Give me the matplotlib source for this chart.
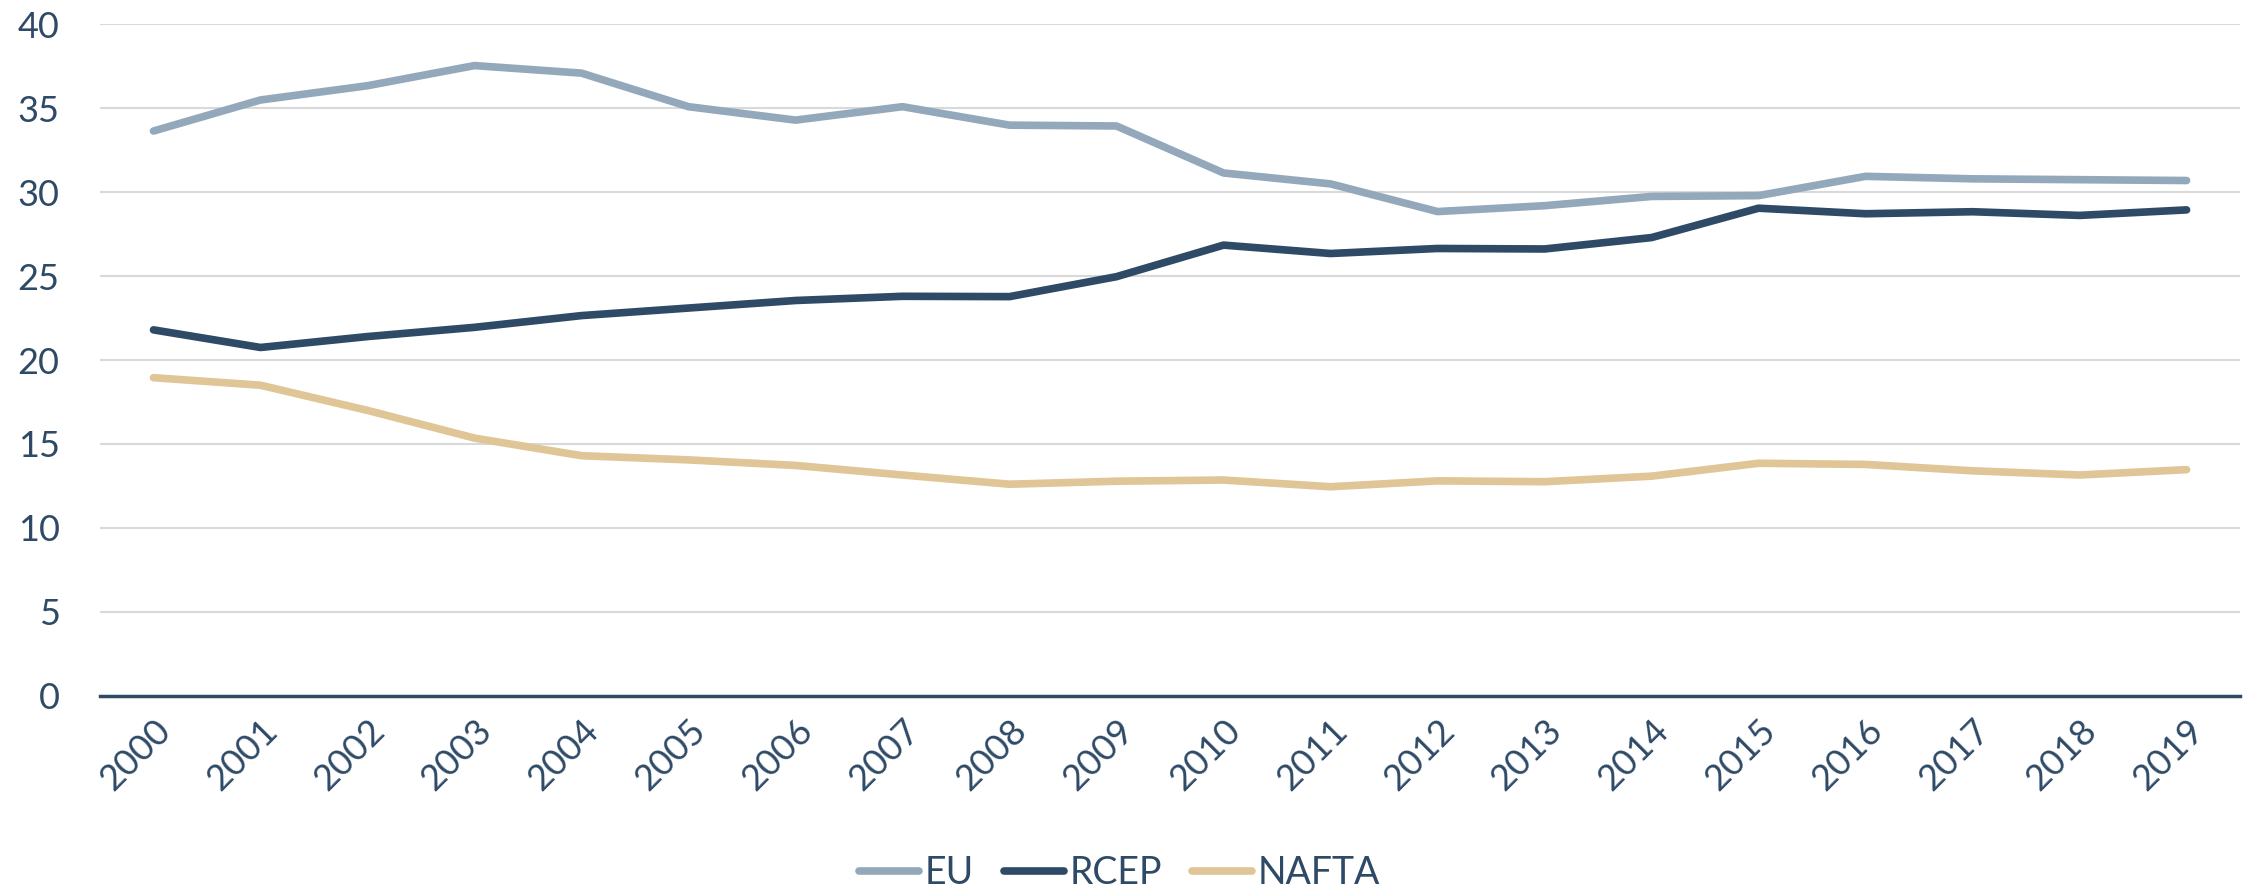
import matplotlib.pyplot as plt

years = [str(y) for y in range(2000, 2020)]
eu = [33.65, 35.5, 36.35, 37.55, 37.1, 35.1, 34.3, 35.1, 34.0, 33.95,
      31.15, 30.5, 28.85, 29.2, 29.75, 29.8, 30.95, 30.8, 30.75, 30.7]
rcep = [21.8, 20.75, 21.4, 21.95, 22.65, 23.1, 23.55, 23.8, 23.78, 24.97,
        26.85, 26.35, 26.65, 26.62, 27.3, 29.05, 28.72, 28.84, 28.62, 28.95]
nafta = [18.95, 18.5, 17.0, 15.35, 14.3, 14.05, 13.72, 13.15, 12.6, 12.78,
         12.85, 12.45, 12.8, 12.75, 13.08, 13.85, 13.78, 13.4, 13.15, 13.47]

navy = '#2E4A66'
plt.rcParams['font.family'] = ['Lato', 'DejaVu Sans']

fig = plt.figure(figsize=(22.52, 8.93), dpi=100)
ax = fig.add_axes([0.0444, 0.221, 0.9503, 0.7516])

x = range(len(years))
ax.plot(x, eu, color='#94A8BC', lw=5.5, solid_capstyle='round', label='EU', zorder=3)
ax.plot(x, rcep, color=navy, lw=5.5, solid_capstyle='round', label='RCEP', zorder=3)
ax.plot(x, nafta, color='#E0C596', lw=5.5, solid_capstyle='round', label='NAFTA', zorder=3)

ax.set_xlim(-0.5, len(years) - 0.5)
ax.set_ylim(0, 40)
ax.set_yticks(range(0, 41, 5))
ax.set_xticks(list(x))
ax.set_xticklabels(years, rotation=45, ha='right', rotation_mode='anchor')
ax.tick_params(axis='both', length=0, labelsize=26, labelcolor=navy)
ax.tick_params(axis='y', pad=29)
ax.tick_params(axis='x', pad=13)

ax.grid(axis='y', color='#D9D9D9', lw=1.5, zorder=0)
ax.set_axisbelow(True)
for s in ['top', 'right', 'left']:
    ax.spines[s].set_visible(False)
ax.spines['bottom'].set_color(navy)
ax.spines['bottom'].set_linewidth(2.5)
ax.spines['bottom'].set_zorder(4)

leg = fig.legend(loc='center', bbox_to_anchor=(0.497, 0.022), ncol=3, frameon=False,
                 fontsize=27, handlelength=1.6, handletextpad=0.15, columnspacing=0.8)
for t in leg.get_texts():
    t.set_color(navy)

fig.savefig('out.png', dpi=100)
